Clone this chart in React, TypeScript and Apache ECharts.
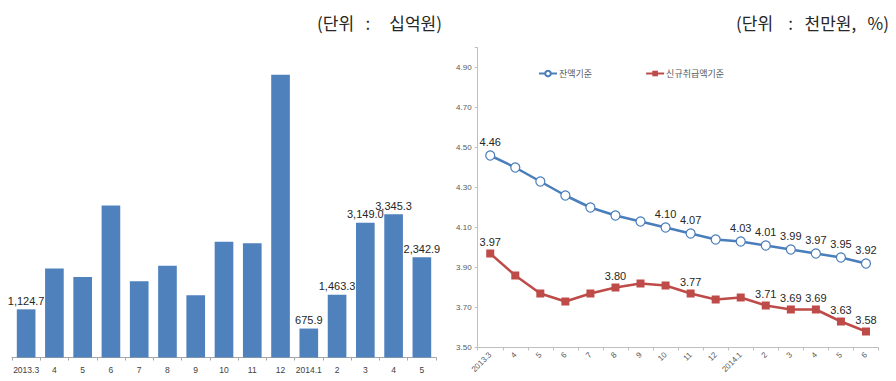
import React, { useEffect, useRef } from "react";
import * as echarts from "echarts";

// Monthly amounts (십억원), 2013.3 – 2014.5
const barMonths = ["2013.3", "4", "5", "6", "7", "8", "9", "10", "11", "12", "2014.1", "2", "3", "4", "5"];
const barValues = [1124.7, 2080, 1880, 3550, 1780, 2140, 1455, 2700, 2665, 6600, 675.9, 1463.3, 3149.0, 3345.3, 2342.9];
const barLabelShown = [true, false, false, false, false, false, false, false, false, false, true, true, true, true, true];

// Average amounts (천만원 / %), 2013.3 – 2014.6
const lineMonths = ["2013.3", "4", "5", "6", "7", "8", "9", "10", "11", "12", "2014.1", "2", "3", "4", "5", "6"];
const balanceValues = [4.46, 4.40, 4.33, 4.26, 4.20, 4.16, 4.13, 4.10, 4.07, 4.04, 4.03, 4.01, 3.99, 3.97, 3.95, 3.92];
const balanceLabelShown = [true, false, false, false, false, false, false, true, true, false, true, true, true, true, true, true];
const newLoanValues = [3.97, 3.86, 3.77, 3.73, 3.77, 3.80, 3.82, 3.81, 3.77, 3.74, 3.75, 3.71, 3.69, 3.69, 3.63, 3.58];
const newLoanLabelShown = [true, false, false, false, false, true, false, false, true, false, false, true, true, true, true, true];

const seriesNames = ["잔액기준", "신규취급액기준"];
const unitLeft = "(단위   :     십억원)";
const unitRight = "(단위    :   천만원,   %)";

const FONT = "'Liberation Sans', Arial, 'Noto Sans CJK KR', sans-serif";
const KFONT = "'Noto Sans CJK KR', 'Liberation Sans', sans-serif";
const BAR_BLUE = "#4F81BD";
const LINE_BLUE = "#4A7EBB";
const LINE_RED = "#BE4B48";

const fmtAmount = (v: number) =>
  v.toLocaleString("en-US", { minimumFractionDigits: 1, maximumFractionDigits: 1 });

export default function App() {
  const ref = useRef<HTMLDivElement>(null);

  useEffect(() => {
    if (!ref.current) return;
    const chart = echarts.init(ref.current, null, { renderer: "svg" });

    const valueLabel = { show: true, position: "top", distance: 3, color: "#262626", fontSize: 11, fontFamily: FONT };
    const hidden = { show: false };

    chart.setOption({
      animation: false,
      backgroundColor: "#ffffff",
      graphic: [
        {
          type: "text",
          x: 442,
          y: 22,
          style: { text: unitLeft, fill: "#262626", font: `normal 17px ${KFONT}`, textAlign: "right", textVerticalAlign: "middle" },
        },
        {
          type: "text",
          x: 889,
          y: 22,
          style: { text: unitRight, fill: "#262626", font: `normal 17px ${KFONT}`, textAlign: "right", textVerticalAlign: "middle" },
        },
      ],
      legend: {
        left: 533,
        top: 64,
        itemWidth: 18,
        itemHeight: 7,
        itemGap: 53,
        textStyle: { fontSize: 9, color: "#595959", fontFamily: KFONT, padding: [0, 0, 0, -3] },
        data: seriesNames,
      },
      grid: [
        { left: 12, top: 57.7, width: 424, height: 299.8 },
        { left: 477.7, top: 47.5, width: 400.8, height: 300 },
      ],
      xAxis: [
        {
          gridIndex: 0,
          type: "category",
          data: barMonths,
          axisLine: { lineStyle: { color: "#A6A6A6" } },
          axisTick: { show: true, length: 3, lineStyle: { color: "#A6A6A6" } },
          axisLabel: { interval: 0, fontSize: 8.5, color: "#404040", margin: 8, fontFamily: FONT },
        },
        {
          gridIndex: 1,
          type: "category",
          data: lineMonths,
          axisLine: { lineStyle: { color: "#BFBFBF" } },
          axisTick: { show: true, length: 3, lineStyle: { color: "#BFBFBF" } },
          axisLabel: { interval: 0, fontSize: 8, color: "#595959", rotate: 45, margin: 6, fontFamily: FONT },
        },
      ],
      yAxis: [
        {
          gridIndex: 0,
          type: "value",
          min: 0,
          max: 7000,
          show: false,
          splitLine: { show: false },
        },
        {
          gridIndex: 1,
          type: "value",
          min: 3.5,
          max: 5.0,
          interval: 0.2,
          axisLine: { show: true, lineStyle: { color: "#BFBFBF" } },
          axisTick: { show: true, length: 3, lineStyle: { color: "#BFBFBF" } },
          splitLine: { show: false },
          axisLabel: {
            fontSize: 8,
            color: "#595959",
            margin: 6,
            fontFamily: FONT,
            formatter: (v: number) => (v > 4.95 ? "" : v.toFixed(2)),
          },
        },
      ],
      series: [
        {
          type: "bar",
          xAxisIndex: 0,
          yAxisIndex: 0,
          barCategoryGap: "34%",
          itemStyle: { color: BAR_BLUE },
          data: barValues.map((v, i) => ({
            value: v,
            label: barLabelShown[i] ? { ...valueLabel, formatter: () => fmtAmount(v) } : hidden,
          })),
        },
        {
          name: seriesNames[0],
          type: "line",
          xAxisIndex: 1,
          yAxisIndex: 1,
          symbol: "circle",
          symbolSize: 9,
          lineStyle: { color: LINE_BLUE, width: 2.5 },
          itemStyle: { color: "#ffffff", borderColor: LINE_BLUE, borderWidth: 1.2 },
          data: balanceValues.map((v, i) => ({
            value: v,
            label: balanceLabelShown[i] ? { ...valueLabel, formatter: () => v.toFixed(2) } : hidden,
          })),
        },
        {
          name: seriesNames[1],
          type: "line",
          xAxisIndex: 1,
          yAxisIndex: 1,
          symbol: "rect",
          symbolSize: 8,
          lineStyle: { color: LINE_RED, width: 2.5 },
          itemStyle: { color: LINE_RED },
          data: newLoanValues.map((v, i) => ({
            value: v,
            label: newLoanLabelShown[i] ? { ...valueLabel, distance: 2, formatter: () => v.toFixed(2) } : hidden,
          })),
        },
      ],
    });

    return () => chart.dispose();
  }, []);

  return (
    <div
      ref={ref}
      style={{ position: "fixed", left: 0, top: 0, width: 896, height: 381, background: "#fff" }}
    />
  );
}
